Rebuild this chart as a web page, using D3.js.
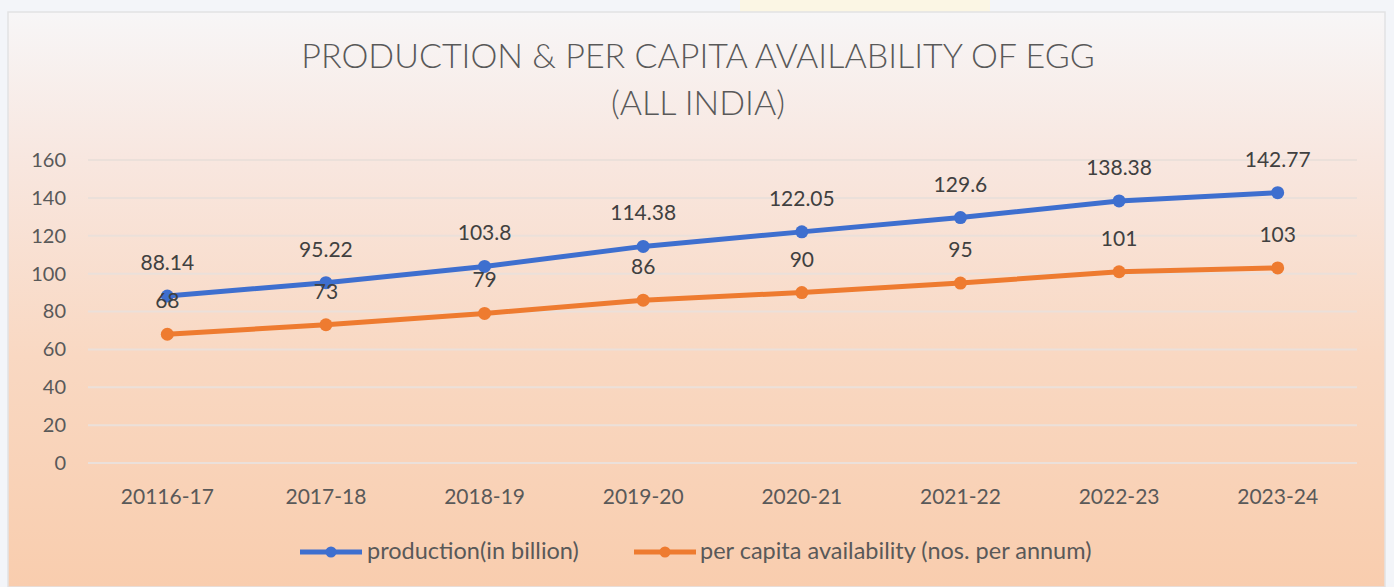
<!DOCTYPE html>
<html>
<head>
<meta charset="utf-8">
<title>Production & per capita availability of egg</title>
<script src="https://d3js.org/d3.v7.min.js"></script>
<style>
  body { margin: 0; background: #f4f6fa; }
  svg { display: block; }
  text { font-family: Lato, "Open Sans", sans-serif; }
</style>
</head>
<body>
<div id="chart"></div>
<script>
// data
var years = ["20116-17", "2017-18", "2018-19", "2019-20", "2020-21", "2021-22", "2022-23", "2023-24"];
var production = [88.14, 95.22, 103.8, 114.38, 122.05, 129.6, 138.38, 142.77];
var perCapita = [68, 73, 79, 86, 90, 95, 101, 103];
var yTicks = [0, 20, 40, 60, 80, 100, 120, 140, 160];
var seriesNames = ["production(in billion)", "per capita availability (nos. per annum)"];

var W = 1394, H = 587;
var plotLeft = 88, plotRight = 1357, plotTop = 160, plotBottom = 463;

var svg = d3.select("#chart").append("svg")
  .attr("width", W).attr("height", H);

var defs = svg.append("defs");
var grad = defs.append("linearGradient").attr("id", "bg")
  .attr("x1", 0).attr("y1", 0).attr("x2", 0).attr("y2", 1);
grad.append("stop").attr("offset", "0%").attr("stop-color", "#f7f6f7");
grad.append("stop").attr("offset", "25%").attr("stop-color", "#f8e7e0");
grad.append("stop").attr("offset", "60%").attr("stop-color", "#f9d8c2");
grad.append("stop").attr("offset", "100%").attr("stop-color", "#f9cdae");

// faint page behind the chart box
svg.append("rect").attr("width", W).attr("height", H).attr("fill", "#f3f5f9");
svg.append("rect").attr("x", 740).attr("y", 0).attr("width", 250).attr("height", 12).attr("fill", "#fbf6e4");

svg.append("rect")
  .attr("x", 8).attr("y", 12).attr("width", 1377).attr("height", H - 12)
  .attr("fill", "url(#bg)")
  .attr("stroke", "#e2e2e4").attr("stroke-width", 1.5);

// title
svg.append("text")
  .attr("x", 698).attr("y", 68)
  .attr("text-anchor", "middle")
  .attr("font-size", 34).attr("font-weight", 300)
  .attr("fill", "#595959")
  .text("PRODUCTION & PER CAPITA AVAILABILITY OF EGG");
svg.append("text")
  .attr("x", 698).attr("y", 115)
  .attr("text-anchor", "middle")
  .attr("font-size", 34).attr("font-weight", 300)
  .attr("fill", "#595959")
  .text("(ALL INDIA)");

var x = d3.scaleBand().domain(years).range([plotLeft, plotRight]);
var y = d3.scaleLinear().domain([0, 160]).range([plotBottom, plotTop]);

// gridlines
svg.append("g").selectAll("line")
  .data(yTicks).enter().append("line")
  .attr("x1", plotLeft).attr("x2", plotRight)
  .attr("y1", d => y(d)).attr("y2", d => y(d))
  .attr("stroke", "#ebe0da").attr("stroke-width", 2);

// y axis
var yAxis = svg.append("g")
  .attr("transform", "translate(" + (plotLeft - 22) + ",0)")
  .call(d3.axisLeft(y).tickValues(yTicks).tickSize(0).tickPadding(0));
yAxis.select(".domain").remove();
yAxis.selectAll("text")
  .attr("font-size", 20).attr("fill", "#595959")
  .style("font-family", "Lato, sans-serif");

// x axis
var xAxis = svg.append("g")
  .attr("transform", "translate(0," + plotBottom + ")")
  .call(d3.axisBottom(x).tickSize(0).tickPadding(26));
xAxis.select(".domain").remove();
xAxis.selectAll("text")
  .attr("font-size", 21).attr("fill", "#595959")
  .style("font-family", "Lato, sans-serif");

var cx = d => x(d) + x.bandwidth() / 2;
var series = [
  { name: seriesNames[0], values: production, color: "#3e6fcf" },
  { name: seriesNames[1], values: perCapita, color: "#ee7b30" }
];

var line = d3.line()
  .x((d, i) => cx(years[i]))
  .y(d => y(d));

series.forEach(function (s) {
  svg.append("path")
    .datum(s.values)
    .attr("d", line)
    .attr("fill", "none")
    .attr("stroke", s.color)
    .attr("stroke-width", 5)
    .attr("stroke-linejoin", "round");
  svg.append("g").selectAll("circle")
    .data(s.values).enter().append("circle")
    .attr("cx", (d, i) => cx(years[i]))
    .attr("cy", d => y(d))
    .attr("r", 6.5)
    .attr("fill", s.color);
});

// data labels drawn last so they sit on top of the lines
series.forEach(function (s) {
  svg.append("g").selectAll("text")
    .data(s.values).enter().append("text")
    .attr("x", (d, i) => cx(years[i]))
    .attr("y", d => y(d) - 26)
    .attr("text-anchor", "middle")
    .attr("font-size", 21)
    .attr("fill", "#404040")
    .text(d => d);
});

// legend
var legendPos = [{ x: 300, tx: 367 }, { x: 634, tx: 700 }];
var legend = svg.append("g").selectAll("g")
  .data(series).enter().append("g")
  .attr("transform", (d, i) => "translate(" + legendPos[i].x + ",552)");
legend.append("line")
  .attr("x1", 0).attr("x2", 62)
  .attr("stroke", d => d.color).attr("stroke-width", 5);
legend.append("circle")
  .attr("cx", 31).attr("r", 5.5)
  .attr("fill", d => d.color);
legend.append("text")
  .attr("x", (d, i) => legendPos[i].tx - legendPos[i].x)
  .attr("y", 7)
  .attr("font-size", 23.5).attr("fill", "#595959")
  .text(d => d.name);
</script>
</body>
</html>
